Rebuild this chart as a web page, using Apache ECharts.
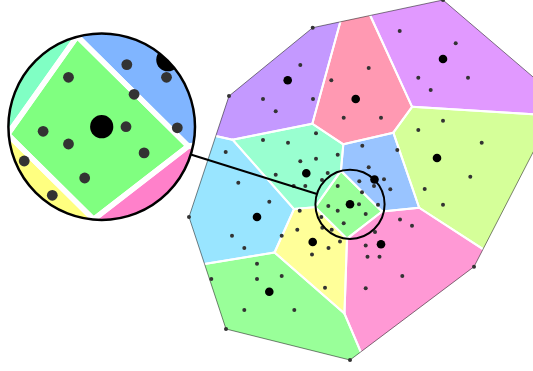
<!DOCTYPE html>
<html><head><meta charset="utf-8">
<script src="https://cdn.jsdelivr.net/npm/echarts@6/dist/echarts.min.js"></script>
<style>html,body{margin:0;padding:0;background:#fff}#c{width:533px;height:371px}</style>
</head><body><div id="c"></div>
<script>
// Voronoi sites (large dots)
const siteX = [287.7, 355.7, 443, 437, 306.3, 374.5, 257, 350, 312.7, 381, 269.3];
const siteY = [80.3, 99, 59, 158, 173.3, 179.5, 217, 204.3, 242, 244.3, 291.7];
// Sample points (small dots)
const pointX = [312.7,300.3,229,263,313,275.7,331.3,343.7,316,263,288,225.7,337.7,316,300.3,275.7,327.7,322,
  443,399.7,455.7,368.7,418.3,468,430.7,381,443,418.3,481.7,362.3,397.3,368.7,470.3,384,
  238.3,293.7,305.3,337.7,269.3,328.3,359,189,337.7,299.7,321.3,343.7,297.3,322.3,331.7,232,281.7,340,244.3,328.5,312,257,211.3,257,281.7,325,244.3,294.3,226,350,
  359.3,424.7,390.3,362,378,443,365.7,400,412,375,365.7,367.5,379.5,474,402.3,365.7,374,560];
const pointY = [27.7,65,96,99,99,111.3,80.3,117.7,133.3,140,142.7,152,154.7,158.7,161.3,174.7,173,180,
  0,31,43.3,68,77.7,77.7,90,117.7,120.7,130,142.7,145.7,150,167.3,176.7,179.3,
  182.7,186,186,186,201.7,206,204.3,217,210.7,210.7,217,223.3,229.7,227.7,229.7,235.7,235.7,241.5,248,248,254.5,263.7,279,279,276,287.7,310,310,329,360,
  181.3,189,189.3,192.3,204.7,204.7,214,219.5,225.8,232,245.5,256.8,256.8,266.7,276,288.3,186,100];

// styling / layout (not data)
const hues = [265, 345, 282, 85, 152, 215, 195, 120, 60, 325, 120];
const lensSite = 7, lensR = 34.6, zoomK = 2.7, lensDisplay = [101.7, 126.7], lensDispR = 93.3;

function convexHull(pts) {
  const p = pts.slice().sort((a,b)=>a[0]-b[0]||a[1]-b[1]);
  const cr = (o,a,b)=>(a[0]-o[0])*(b[1]-o[1])-(a[1]-o[1])*(b[0]-o[0]);
  const lo=[], up=[];
  for (const q of p){ while(lo.length>=2&&cr(lo[lo.length-2],lo[lo.length-1],q)<=0) lo.pop(); lo.push(q); }
  for (let i=p.length-1;i>=0;i--){ const q=p[i]; while(up.length>=2&&cr(up[up.length-2],up[up.length-1],q)<=0) up.pop(); up.push(q); }
  up.pop(); lo.pop(); return lo.concat(up);
}
function clipHalf(poly, a, b, c) { // keep a*x+b*y <= c
  const out = [];
  for (let i=0;i<poly.length;i++){
    const P=poly[i], Q=poly[(i+1)%poly.length];
    const fp=a*P[0]+b*P[1]-c, fq=a*Q[0]+b*Q[1]-c;
    if (fp<=0) out.push(P);
    if ((fp<0&&fq>0)||(fp>0&&fq<0)){ const t=fp/(fp-fq); out.push([P[0]+t*(Q[0]-P[0]),P[1]+t*(Q[1]-P[1])]); }
  }
  return out;
}
const pts = pointX.map((x,i)=>[x,pointY[i]]);
const hullPts = convexHull(pts);
const cells = siteX.map((sx,i)=>{
  let poly = hullPts.slice();
  const sy = siteY[i];
  siteX.forEach((tx,j)=>{
    if (j===i) return;
    const ty=siteY[j], a=tx-sx, b=ty-sy, mx=(tx+sx)/2, my=(ty+sy)/2;
    poly = clipHalf(poly, a, b, a*mx+b*my);
  });
  return poly;
});
function onHull(A,B){
  for (let i=0;i<hullPts.length;i++){
    const H1=hullPts[i], H2=hullPts[(i+1)%hullPts.length];
    const dx=H2[0]-H1[0], dy=H2[1]-H1[1], L=Math.hypot(dx,dy);
    const d=(P)=>Math.abs((P[0]-H1[0])*dy-(P[1]-H1[1])*dx)/L;
    if (d(A)<0.3&&d(B)<0.3) return true;
  }
  return false;
}
const edges=[];
cells.forEach(poly=>{ for(let i=0;i<poly.length;i++){ const A=poly[i],B=poly[(i+1)%poly.length]; if(!onHull(A,B)) edges.push([A,B]); } });

const chart = echarts.init(document.getElementById('c'));
chart.setOption({
  animation:false,
  grid:{left:0,right:0,top:0,bottom:0},
  xAxis:{type:'value',min:0,max:533,show:false},
  yAxis:{type:'value',min:0,max:371,inverse:true,show:false},
  series:[{
    type:'custom', coordinateSystem:'cartesian2d', data:[[0,0]],
    renderItem:function(params, api){
      const P = p=>api.coord(p);
      const build = (alpha)=>{
        const ch=[];
        cells.forEach((poly,i)=>{ if(poly.length>2) ch.push({type:'polygon',shape:{points:poly.map(P)},style:{fill:'hsla('+hues[i]+',100%,75%,'+alpha+')',stroke:null}}); });
        edges.forEach(e=>{ const a=P(e[0]), b=P(e[1]); ch.push({type:'line',shape:{x1:a[0],y1:a[1],x2:b[0],y2:b[1]},style:{stroke:'#fff',lineWidth:2,lineCap:'round'}}); });
        ch.push({type:'polygon',shape:{points:hullPts.map(P)},style:{fill:'none',stroke:'rgba(0,0,0,0.55)',lineWidth:0.9}});
        pts.forEach(p=>{ const c=P(p); ch.push({type:'circle',shape:{cx:c[0],cy:c[1],r:2},style:{fill:'#333'}}); });
        siteX.forEach((x,i)=>{ const c=P([x,siteY[i]]); ch.push({type:'circle',shape:{cx:c[0],cy:c[1],r:4.3},style:{fill:'#000'}}); });
        return ch;
      };
      const lc = P([siteX[lensSite], siteY[lensSite]]);
      const dx = lc[0]-lensDisplay[0], dy = lc[1]-lensDisplay[1], L=Math.hypot(dx,dy), ux=dx/L, uy=dy/L;
      const children = build(0.8);
      children.push({type:'line',shape:{x1:lensDisplay[0]+ux*lensDispR,y1:lensDisplay[1]+uy*lensDispR,x2:lc[0]-ux*lensR,y2:lc[1]-uy*lensR},style:{stroke:'#000',lineWidth:2}});
      children.push({type:'circle',shape:{cx:lc[0],cy:lc[1],r:lensR},style:{fill:'none',stroke:'#000',lineWidth:2}});
      children.push({type:'group', x:lensDisplay[0]-zoomK*lc[0], y:lensDisplay[1]-zoomK*lc[1], scaleX:zoomK, scaleY:zoomK,
        clipPath:{type:'circle',shape:{cx:lc[0],cy:lc[1],r:lensR}},
        children:[{type:'circle',shape:{cx:lc[0],cy:lc[1],r:lensR},style:{fill:'#fff'}}].concat(build(1))});
      children.push({type:'circle',shape:{cx:lensDisplay[0],cy:lensDisplay[1],r:lensDispR},style:{fill:'none',stroke:'#000',lineWidth:2.5}});
      return {type:'group',children:children};
    }
  }]
});
</script></body></html>
